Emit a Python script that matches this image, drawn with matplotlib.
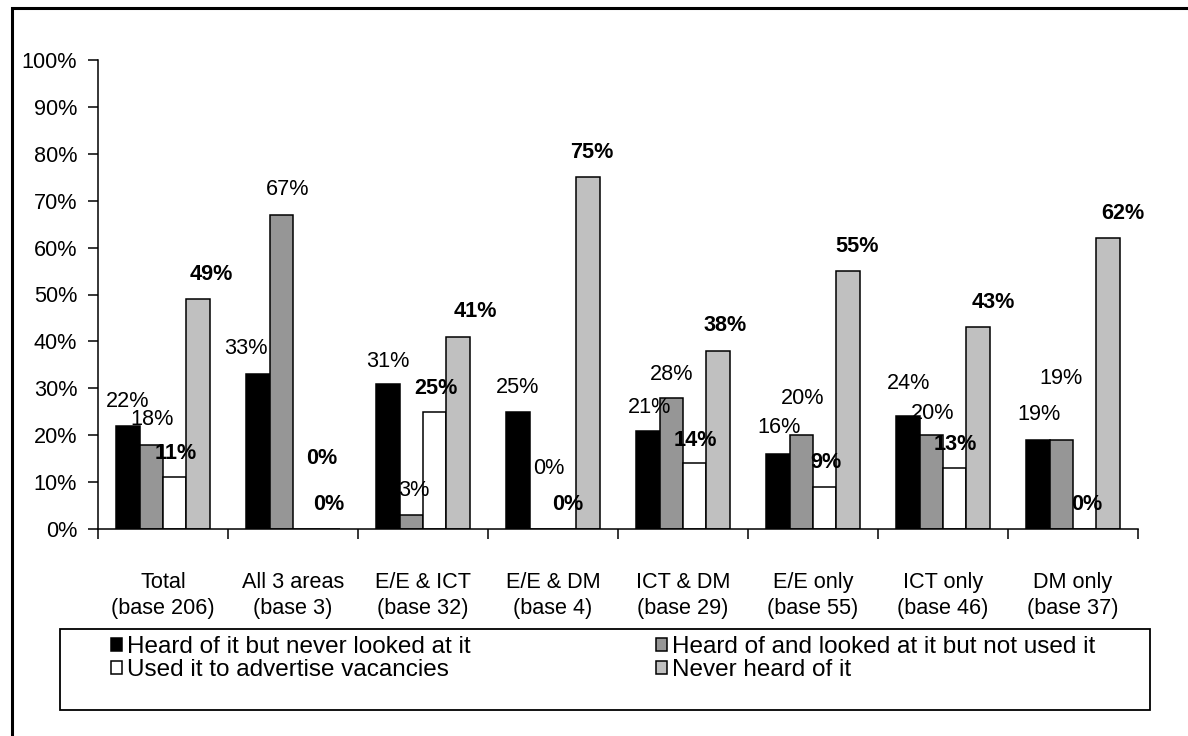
import matplotlib.pyplot as plt
import matplotlib.patches as patches
import numpy as np

# Kategóriák és sorozatok (%)
categories = ["Total\n(base 206)", "All 3 areas\n(base 3)", "E/E & ICT\n(base 32)",
              "E/E & DM\n(base 4)", "ICT & DM\n(base 29)", "E/E only\n(base 55)",
              "ICT only\n(base 46)", "DM only\n(base 37)"]
series_names = ["Heard of it but never looked at it",
                "Heard of and looked at it but not used it",
                "Used it to advertise vacancies",
                "Never heard of it"]
heard_never_looked = [22, 33, 31, 25, 21, 16, 24, 19]
looked_not_used = [18, 67, 3, 0, 28, 20, 20, 19]
used_to_advertise = [11, 0, 25, 0, 14, 9, 13, 0]
never_heard = [49, 0, 41, 75, 38, 55, 43, 62]
y_ticks = list(range(0, 101, 10))

series = [heard_never_looked, looked_not_used, used_to_advertise, never_heard]
colors = ["#000000", "#969696", "#ffffff", "#c0c0c0"]
bold = [False, False, True, True]

# címkék eltolása képpontban (dx, fel) az oszlop tetejéhez képest
label_offsets = [
    [(0, 24), (-12, 26), (0, 22), (0, 24), (2, 23), (1, 26), (1, 33), (1, 25)],
    [(1, 25), (6, 25), (3, 24), (8, 61), (0, 23), (1, 37), (1, 22), (0, 61)],
    [(1, 24), (17, 71), (1, 23), (3, 24), (1, 23), (1, 24), (1, 24), (2, 24)],
    [(13, 25), (1, 25), (17, 25), (4, 25), (7, 25), (9, 25), (15, 25), (15, 25)],
]

W, H = 1188, 736
plt.rcParams['font.family'] = ['Liberation Sans', 'DejaVu Sans']
fs = 15.6
fs_leg = 17.5

fig = plt.figure(figsize=(W / 100, H / 100), dpi=100)
ax = fig.add_axes([98 / W, 1 - 529 / H, 1040 / W, 469 / H])

n = len(categories)
bw = 0.18
x0 = np.arange(n) + 0.5 - 2 * bw + bw / 2
for i, vals in enumerate(series):
    xs = x0 + i * bw
    ax.bar(xs, vals, width=bw, color=colors[i], edgecolor="black", linewidth=1.1,
           label=series_names[i], zorder=2)
    for j, v in enumerate(vals):
        dx, up = label_offsets[i][j]
        ax.annotate(f"{v}%", (xs[j], v), xytext=(dx, up), textcoords="offset pixels",
                    ha="center", va="center", fontsize=fs,
                    fontweight="bold" if bold[i] else "normal", zorder=5)

ax.set_xlim(0, n)
ax.set_ylim(0, 100)
ax.set_yticks(y_ticks)
ax.set_yticklabels([f"{t}%" for t in y_ticks], fontsize=fs)
ax.set_xticks(np.arange(n) + 0.5)
ax.set_xticklabels(categories, fontsize=fs, linespacing=1.3)
ax.set_xticks(np.arange(n + 1), minor=True)
ax.tick_params(axis="x", which="major", length=0, pad=31)
ax.tick_params(axis="x", which="minor", length=7, width=1.1, direction="out")
ax.tick_params(axis="y", length=7, width=1.1, direction="out", pad=8)
for s in ["top", "right"]:
    ax.spines[s].set_visible(False)
for s in ["left", "bottom"]:
    ax.spines[s].set_linewidth(1.1)

# jelmagyarázat keretben
handles, labels = ax.get_legend_handles_labels()
order = [0, 2, 1, 3]
leg = fig.legend([handles[k] for k in order], [labels[k] for k in order],
                 loc="upper left", bbox_to_anchor=(111 / W, 1 - 636 / H), ncol=2,
                 frameon=False, fontsize=fs_leg, borderpad=0, borderaxespad=0,
                 handlelength=0.47, handleheight=0.47, handletextpad=0.2,
                 columnspacing=7.6, labelspacing=0.05)
fig.patches.append(patches.Rectangle((60 / W, 1 - 710 / H), 1090 / W, 81 / H,
                                     transform=fig.transFigure, fill=False,
                                     edgecolor="black", linewidth=1.3))
# külső keret
fig.patches.append(patches.Rectangle((11.5 / W, -0.1), 1.2, 1.1 - 7.5 / H,
                                     transform=fig.transFigure, fill=False,
                                     edgecolor="black", linewidth=2.2))

fig.savefig("out.png", dpi=100)
